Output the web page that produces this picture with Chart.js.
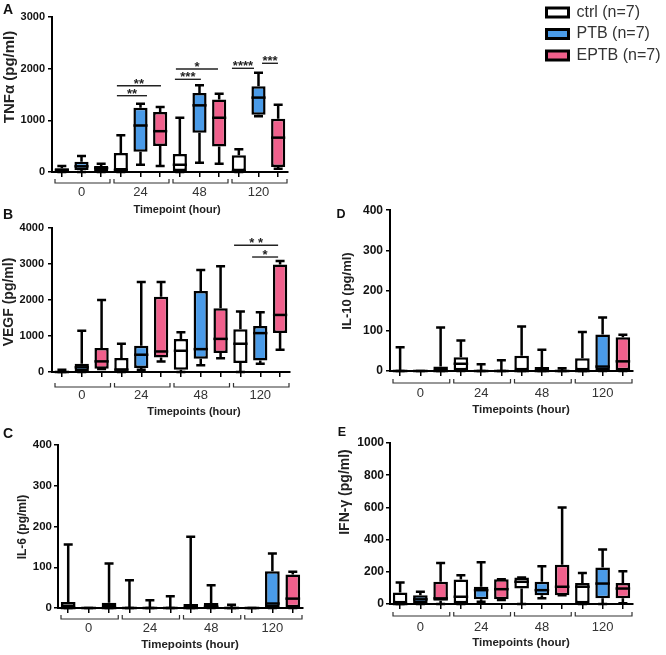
<!DOCTYPE html>
<html><head><meta charset="utf-8">
<script src="https://cdn.jsdelivr.net/npm/chart.js@4.4.1/dist/chart.umd.min.js"></script>
<style>
html,body{margin:0;padding:0;background:#fff;}
#wrap{position:relative;width:666px;height:655px;overflow:hidden;background:#fff;}
canvas{position:absolute;}
</style></head><body><div id="wrap"></div>
<script>
// ---------- data ----------
const timepoints = ['0', '24', '48', '120'];
const groups = ['ctrl', 'PTB', 'EPTB'];
const groupN = [7, 7, 7];
// each entry: [min, q1, median, q3, max] per timepoint (0, 24, 48, 120 h)
const tnfCtrl = [[0, 5, 40, 75, 115], [0, 30, 40, 370, 710], [0, 20, 140, 350, 1050], [0, 20, 20, 325, 440]];
const tnfPTB  = [[0, 40, 110, 200, 310], [140, 390, 900, 1245, 1320], [180, 760, 1290, 1530, 1680], [1080, 1110, 1440, 1660, 1920]];
const tnfEPTB = [[0, 20, 75, 115, 160], [115, 505, 790, 1160, 1260], [160, 495, 1050, 1405, 1515], [65, 95, 665, 1030, 1300]];

const vegfCtrl = [[0, 0, 0, 0, 65], [0, 35, 65, 390, 785], [0, 65, 590, 920, 1105], [0, 250, 785, 1190, 1680]];
const vegfPTB  = [[0, 20, 130, 230, 1145], [65, 110, 480, 730, 2500], [185, 370, 635, 2250, 2830], [230, 320, 1080, 1280, 1660]];
const vegfEPTB = [[80, 90, 295, 665, 2000], [295, 405, 570, 2090, 2500], [385, 525, 920, 1770, 2940], [620, 1080, 1585, 2985, 3080]];

const il6Ctrl = [[0, 0, 0, 15, 156], [0, 0, 0, 2, 68], [0, 0, 0, 10, 175], [0, 0, 0, 0, 0]];
const il6PTB  = [[0, 0, 0, 0, 0], [0, 0, 0, 2, 19], [0, 0, 3, 12, 56], [0, 0, 11, 90, 134]];
const il6EPTB = [[0, 0, 0, 13, 109], [0, 0, 0, 2, 29], [0, 0, 0, 3, 8], [0, 0, 23, 82, 89]];

const il10Ctrl = [[0, 0, 0, 0, 59], [0, 2, 18, 34, 76], [0, 0, 0, 38, 111], [0, 0, 0, 32, 97]];
const il10PTB  = [[0, 0, 0, 0, 0], [0, 0, 0, 2, 17], [0, 0, 0, 10, 53], [0, 0, 11, 91, 133]];
const il10EPTB = [[0, 0, 0, 11, 108], [0, 0, 0, 2, 27], [0, 0, 0, 2, 7], [0, 0, 24, 84, 90]];

const ifnCtrl = [[0, 0, 0, 72, 133], [0, 0, 45, 152, 179], [0, 96, 138, 164, 164], [0, 0, 107, 131, 193]];
const ifnPTB  = [[0, 4, 29, 55, 76], [14, 29, 86, 107, 260], [35, 55, 86, 138, 234], [0, 35, 127, 226, 339]];
const ifnEPTB = [[0, 20, 35, 138, 255], [25, 29, 92, 154, 154], [55, 55, 107, 244, 600], [4, 35, 96, 131, 203]];

// significance bars: [from slot, to slot, value, label]
const tnfSig = [[2.8, 4.33, 1477, '**'], [2.8, 5.04, 1670, '**'], [5.75, 7.07, 1794, '***'], [5.8, 7.94, 1993, '*'], [8.65, 9.77, 2007, '****'], [10.18, 10.99, 2104, '***']];
const vegfSig = [[8.68, 10.9, 3520, '* *'], [9.59, 10.9, 3194, '*']];

// ---------- styling ----------
const FONT = "'Liberation Sans', Arial, Helvetica, sans-serif";
Chart.defaults.font.family = FONT;
const COLORS = ['#ffffff', '#4a9be8', '#f0608c'];

const slotLabels = [];
timepoints.forEach(t => groups.forEach((g, i) => slotLabels.push(i === 1 ? t : '')));

const boxPlugin = {
  id: 'boxes',
  beforeDatasetsDraw(chart) {
    const p = chart.canvas._panel; if (!p) return;
    const xs = chart.scales.x, ys = chart.scales.y, ctx = chart.ctx;
    ctx.save();
    ctx.strokeStyle = '#000'; ctx.lineWidth = 2.5;
    const cap = 4.5;
    p.series.forEach((s, g) => s.forEach((v, t) => {
      const x = xs.getPixelForValue(t * 3 + g);
      const yMin = ys.getPixelForValue(v[0]), yQ1 = ys.getPixelForValue(v[1]);
      const yQ3 = ys.getPixelForValue(v[3]), yMax = ys.getPixelForValue(v[4]);
      ctx.beginPath();
      ctx.moveTo(x, yQ3); ctx.lineTo(x, yMax);
      ctx.moveTo(x - cap, yMax); ctx.lineTo(x + cap, yMax);
      ctx.moveTo(x, yQ1); ctx.lineTo(x, yMin);
      ctx.moveTo(x - cap, yMin); ctx.lineTo(x + cap, yMin);
      ctx.stroke();
    }));
    ctx.restore();
  },
  afterDatasetsDraw(chart) {
    const p = chart.canvas._panel; if (!p) return;
    const ys = chart.scales.y, ctx = chart.ctx;
    ctx.save();
    ctx.strokeStyle = '#000'; ctx.lineWidth = 2.5;
    p.series.forEach((s, g) => {
      const meta = chart.getDatasetMeta(g);
      s.forEach((v, t) => {
        const el = meta.data[t * 3 + g];
        const half = el.width / 2;
        const y = ys.getPixelForValue(v[2]);
        ctx.beginPath(); ctx.moveTo(el.x - half, y); ctx.lineTo(el.x + half, y); ctx.stroke();
      });
    });
    ctx.restore();
  },
  afterDraw(chart) {
    const p = chart.canvas._panel; if (!p) return;
    const xs = chart.scales.x, ys = chart.scales.y, ctx = chart.ctx;
    const bx = p.box[0], by = p.box[1];
    ctx.save();
    // brackets under each timepoint group
    ctx.strokeStyle = '#333'; ctx.lineWidth = 1.2;
    const yb = chart.chartArea.bottom + p.bracket;
    timepoints.forEach((tp, t) => {
      const x0 = xs.getPixelForValue(t * 3 - 0.5) + 3;
      const x1 = xs.getPixelForValue(t * 3 + 2.5) - 1;
      ctx.beginPath();
      ctx.moveTo(x0, yb - 4); ctx.lineTo(x0, yb); ctx.lineTo(x1, yb); ctx.lineTo(x1, yb - 4);
      ctx.stroke();
    });
    // significance
    ctx.strokeStyle = '#222'; ctx.lineWidth = 1.4; ctx.fillStyle = '#222';
    ctx.font = 'bold 13px ' + FONT; ctx.textAlign = 'center'; ctx.textBaseline = 'alphabetic';
    (p.sig || []).forEach(([a, b, val, lab]) => {
      const x0 = xs.getPixelForValue(a), x1 = xs.getPixelForValue(b), y = ys.getPixelForValue(val);
      ctx.beginPath(); ctx.moveTo(x0, y); ctx.lineTo(x1, y); ctx.stroke();
      ctx.fillText(lab, (x0 + x1) / 2, y + 2);
    });
    // letters and titles
    ctx.fillStyle = '#111';
    ctx.textAlign = 'center'; ctx.textBaseline = 'middle';
    ctx.font = 'bold ' + p.letterSize + 'px ' + FONT;
    ctx.fillText(p.letter, p.letterPos[0] - bx, p.letterPos[1] - by);
    ctx.font = 'bold ' + p.xTitleSize + 'px ' + FONT;
    ctx.fillStyle = '#222';
    ctx.fillText(p.xTitle, p.xTitlePos[0] - bx, p.xTitlePos[1] - by);
    ctx.save();
    ctx.translate(p.yTitlePos[0] - bx, p.yTitlePos[1] - by);
    ctx.rotate(-Math.PI / 2);
    ctx.font = 'bold ' + p.yTitleSize + 'px ' + FONT;
    ctx.fillText(p.yTitle, 0, 0);
    ctx.restore();
    ctx.restore();
  }
};

function makePanel(p) {
  const [bx, by, bw, bh] = p.box;
  const [L, T, R, B] = p.area;
  const c = document.createElement('canvas');
  c.width = bw; c.height = bh;
  c.style.left = bx + 'px'; c.style.top = by + 'px';
  c.style.width = bw + 'px'; c.style.height = bh + 'px';
  c._panel = p;
  document.getElementById('wrap').appendChild(c);
  const yW = L - bx, xH = by + bh - B;
  const datasets = p.series.map((s, g) => {
    const data = new Array(12).fill(null);
    s.forEach((v, t) => { data[t * 3 + g] = [v[1], v[3]]; });
    return {
      label: groups[g], data, backgroundColor: COLORS[g], borderColor: '#000',
      borderWidth: 2.5, borderSkipped: false, grouped: false,
      barPercentage: 0.72, categoryPercentage: 1
    };
  });
  new Chart(c, {
    type: 'bar',
    data: { labels: slotLabels, datasets },
    options: {
      responsive: false, animation: false, devicePixelRatio: 1,
      layout: { padding: { left: 0, top: T - by, right: bx + bw - R, bottom: 0 } },
      plugins: { legend: { display: false }, tooltip: { enabled: false } },
      scales: {
        x: {
          grid: { offset: false, drawOnChartArea: false, drawTicks: true, tickLength: 5, color: '#000', lineWidth: 1.5 },
          border: { display: true, color: '#000', width: 2 },
          ticks: { autoSkip: false, maxRotation: 0, minRotation: 0, padding: p.xPad, color: '#333', font: { size: p.grpFont } },
          afterFit: s => { s.height = xH; }
        },
        y: {
          min: 0, max: p.yMax,
          ticks: { stepSize: p.yStep, color: '#111', font: { size: p.tickFont, weight: 'bold' }, padding: p.yPad, callback: v => String(v) },
          grid: { drawOnChartArea: false, drawTicks: true, tickLength: 4, color: '#000', lineWidth: 1.5 },
          border: { display: true, color: '#000', width: 2 },
          afterFit: s => { s.width = yW; }
        }
      }
    },
    plugins: [boxPlugin]
  });
}

makePanel({ letter: 'A', letterPos: [8, 10], letterSize: 14,
  yTitle: 'TNFα (pg/ml)', yTitlePos: [10, 77], yTitleSize: 15,
  xTitle: 'Timepoint (hour)', xTitlePos: [177, 210], xTitleSize: 11,
  yMax: 3000, yStep: 1000, series: [tnfCtrl, tnfPTB, tnfEPTB], sig: tnfSig,
  box: [0, 0, 333, 218], area: [52, 17, 288, 172], tickFont: 11, yPad: 3, xPad: 8, grpFont: 13, bracket: 11 });

makePanel({ letter: 'B', letterPos: [8, 215], letterSize: 14,
  yTitle: 'VEGF (pg/ml)', yTitlePos: [9, 302], yTitleSize: 14,
  xTitle: 'Timepoints (hour)', xTitlePos: [194, 412], xTitleSize: 11,
  yMax: 4000, yStep: 1000, series: [vegfCtrl, vegfPTB, vegfEPTB], sig: vegfSig,
  box: [0, 205, 333, 213], area: [52, 228, 290, 372], tickFont: 11, yPad: 4, xPad: 11, grpFont: 13, bracket: 15 });

makePanel({ letter: 'C', letterPos: [8, 434], letterSize: 14,
  yTitle: 'IL-6 (pg/ml)', yTitlePos: [23, 527], yTitleSize: 12,
  xTitle: 'Timepoints (hour)', xTitlePos: [190, 645], xTitleSize: 11.5,
  yMax: 400, yStep: 100, series: [il6Ctrl, il6PTB, il6EPTB], sig: [],
  box: [0, 425, 333, 229], area: [58, 445, 303, 608], tickFont: 11.5, yPad: 2, xPad: 8, grpFont: 13, bracket: 11 });

makePanel({ letter: 'D', letterPos: [341, 215], letterSize: 12.5,
  yTitle: 'IL-10 (pg/ml)', yTitlePos: [347, 291], yTitleSize: 13,
  xTitle: 'Timepoints (hour)', xTitlePos: [521, 410], xTitleSize: 11.5,
  yMax: 400, yStep: 100, series: [il10Ctrl, il10PTB, il10EPTB], sig: [],
  box: [333, 200, 333, 217], area: [390, 210, 633, 371], tickFont: 12, yPad: 3, xPad: 10, grpFont: 13, bracket: 12 });

makePanel({ letter: 'E', letterPos: [342, 433], letterSize: 12.5,
  yTitle: 'IFN-γ (pg/ml)', yTitlePos: [345, 492], yTitleSize: 14,
  xTitle: 'Timepoints (hour)', xTitlePos: [521, 643], xTitleSize: 11.5,
  yMax: 1000, yStep: 200, series: [ifnCtrl, ifnPTB, ifnEPTB], sig: [],
  box: [333, 422, 333, 228], area: [390, 443, 633, 604], tickFont: 12, yPad: 2, xPad: 11, grpFont: 13, bracket: 12 });

// ---------- legend ----------
(function () {
  const c = document.createElement('canvas');
  c.width = 125; c.height = 170;
  c.style.left = '541px'; c.style.top = '-1px';
  document.getElementById('wrap').appendChild(c);
  new Chart(c, {
    type: 'bar',
    data: { labels: [], datasets: groups.map((g, i) => ({
      label: g + ' (n=' + groupN[i] + ')', data: [], backgroundColor: COLORS[i], borderColor: '#000', borderWidth: 3 })) },
    options: {
      responsive: false, animation: false, devicePixelRatio: 1,
      scales: { x: { display: false }, y: { display: false } },
      plugins: {
        tooltip: { enabled: false },
        legend: { position: 'top', align: 'start',
          labels: { boxWidth: 22, boxHeight: 9, padding: 5.5, color: '#333', font: { size: 16 } } }
      }
    }
  });
})();
</script>
</body></html>
